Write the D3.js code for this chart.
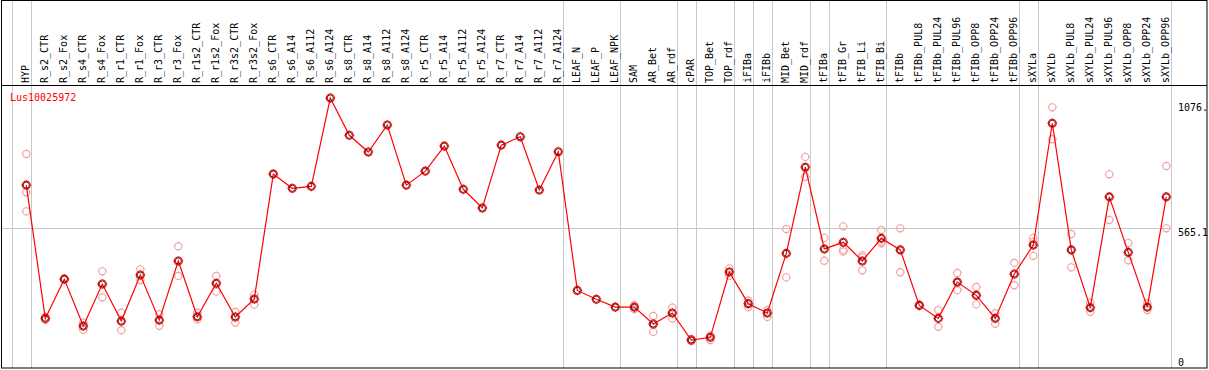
<!DOCTYPE html>
<html>
<head>
<meta charset="utf-8">
<script src="https://cdn.jsdelivr.net/npm/d3@7"></script>
<style>
  html, body { margin: 0; padding: 0; background: #fff; }
  svg { display: block; }
  text { font-family: "DejaVu Sans Mono", "Liberation Mono", monospace; font-size: 10px; }
</style>
</head>
<body>
<svg id="chart" width="1209" height="370"></svg>
<script>
const title = "Lus10025972";
const categories = ["HYP","R_s2_CTR","R_s2_Fox","R_s4_CTR","R_s4_Fox","R_r1_CTR","R_r1_Fox","R_r3_CTR","R_r3_Fox","R_r1s2_CTR","R_r1s2_Fox","R_r3s2_CTR","R_r3s2_Fox","R_s6_CTR","R_s6_A14","R_s6_A112","R_s6_A124","R_s8_CTR","R_s8_A14","R_s8_A112","R_s8_A124","R_r5_CTR","R_r5_A14","R_r5_A112","R_r5_A124","R_r7_CTR","R_r7_A14","R_r7_A112","R_r7_A124","LEAF_N","LEAF_P","LEAF_NPK","SAM","AR_Bet","AR_rdf","cPAR","TOP_Bet","TOP_rdf","iFIBa","iFIBb","MID_Bet","MID_rdf","tFIBa","tFIB_Gr","tFIB_Li","tFIB_Bi","tFIBb","tFIBb_PUL8","tFIBb_PUL24","tFIBb_PUL96","tFIBb_OPP8","tFIBb_OPP24","tFIBb_OPP96","sXYLa","sXYLb","sXYLb_PUL8","sXYLb_PUL24","sXYLb_PUL96","sXYLb_OPP8","sXYLb_OPP24","sXYLb_OPP96"];
const means = [741,198,358,167,338,187,375,191,432,205,341,204,277,786,728,736,1096,944,876,986,741,798,900,724,648,904,938,721,877,312,276,244,244,175,220,110,121,387,258,220,463,814,481,508,432,524,477,251,198,346,292,198,379,497,993,477,242,693,467,244,693];
const replicates = [[868,712,634],[192,204],[360,357],[181,151],[390,284],[221,150],[398,354],[215,168],[492,371],[221,194],[371,307],[224,181],[295,254],[],[],[],[],[],[],[],[],[],[],[],[],[],[],[],[],[],[],[],[236,252],[208,143],[242,198],[106,114],[128,110],[402,372],[270,244],[232,204],[562,365],[856,775],[526,433],[573,477,470],[455,447,394],[558,504,511],[565,386],[248,255],[232,164],[383,313],[326,255],[219,176],[424,333],[526,453,510],[1058,928],[542,406],[262,225],[785,599],[505,435],[260,232],[819,565]];
const groupEnds = [-1,0,28,31,34,35,37,38,39,41,42,45,52,53,60];
const yTicks = [0, 565.1, 1076];
const yTickLabels = ["0", "565.1", "1076."];

const svg = d3.select("#chart");
const x = d3.scalePoint().domain(categories).range([26.3, 1166.3]);
const step = x.step();
const xi = i => x(categories[0]) + step * i;
const y = d3.scaleLinear().domain([0, 1076]).range([367, 102.9]);

// gridlines
svg.append("g").selectAll("line").data(groupEnds).join("line")
  .attr("x1", d => Math.round(xi(d) + 4.4) + 0.5).attr("x2", d => Math.round(xi(d) + 4.4) + 0.5)
  .attr("y1", 0).attr("y2", 368)
  .attr("stroke", "#c8c8c8").attr("stroke-width", 1);
svg.append("line")
  .attr("x1", 1).attr("x2", Math.round(xi(60) + 4.4))
  .attr("y1", Math.round(y(565.1)) + 0.5).attr("y2", Math.round(y(565.1)) + 0.5)
  .attr("stroke", "#c8c8c8").attr("stroke-width", 1);

// frame
svg.append("rect").attr("x", 1.5).attr("y", 0.5).attr("width", 1205.5).attr("height", 367.5)
  .attr("fill", "none").attr("stroke", "#000").attr("stroke-width", 1);
svg.append("line").attr("x1", 1).attr("x2", 1207).attr("y1", 85.5).attr("y2", 85.5)
  .attr("stroke", "#000").attr("stroke-width", 1);

// category labels
svg.append("g").selectAll("text").data(categories).join("text")
  .attr("transform", d => `translate(${x(d) + 2.5},83) rotate(-90)`)
  .attr("fill", "#000")
  .text(d => d);

// y tick labels
svg.append("g").selectAll("text").data(yTicks).join("text")
  .attr("x", 1178)
  .attr("y", (d, i) => Math.min(y(d) + 8, 366))
  .attr("fill", "#000")
  .text((d, i) => yTickLabels[i]);

// title
svg.append("text").attr("x", 10).attr("y", 101).attr("fill", "red").text(title);

function marker(g, cx, cy, color, r, tick) {
  g.append("circle").attr("cx", cx).attr("cy", cy).attr("r", r)
    .attr("fill", "none").attr("stroke", color).attr("stroke-width", 1.1);
  [[0,-1],[0,1],[-1,0],[1,0]].forEach(([dx, dy]) => {
    g.append("line")
      .attr("x1", cx + dx * r).attr("y1", cy + dy * r)
      .attr("x2", cx + dx * (r + tick)).attr("y2", cy + dy * (r + tick))
      .attr("stroke", color).attr("stroke-width", 0.8);
  });
}

// replicates
const repG = svg.append("g");
replicates.forEach((reps, i) => {
  reps.forEach(v => marker(repG, x(categories[i]), y(v), "#f2a0a0", 3.6, 1));
});

// mean line
svg.append("path")
  .datum(means)
  .attr("fill", "none").attr("stroke", "red").attr("stroke-width", 1.2)
  .attr("d", d3.line().x((d, i) => x(categories[i])).y(d => y(d)));

// mean markers
const meanG = svg.append("g");
means.forEach((v, i) => {
  marker(meanG, x(categories[i]), y(v), "red", 4, 1);
  meanG.append("circle").attr("cx", x(categories[i])).attr("cy", y(v)).attr("r", 3.1)
    .attr("fill", "none").attr("stroke", "#400").attr("stroke-width", 0.9);
});
</script>
</body>
</html>
